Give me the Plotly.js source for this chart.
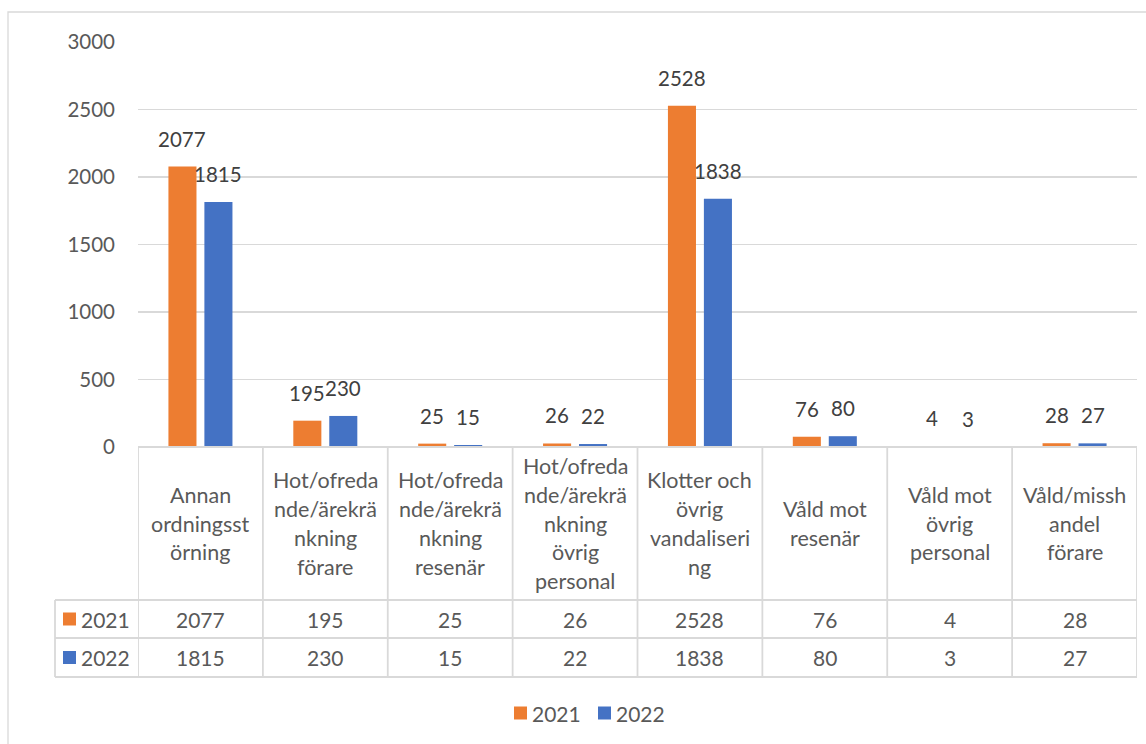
<!DOCTYPE html>
<html>
<head>
<meta charset="utf-8">
<script src="https://cdn.plot.ly/plotly-3.0.1.min.js"></script>
<style>html,body{margin:0;padding:0;background:#fff;}#chart{width:1146px;height:744px;}</style>
</head>
<body>
<div id="chart"></div>
<script>
// ---- data ----
var categories = [
  "Annan ordningsstörning",
  "Hot/ofredande/ärekränkning förare",
  "Hot/ofredande/ärekränkning resenär",
  "Hot/ofredande/ärekränkning övrig personal",
  "Klotter och övrig vandalisering",
  "Våld mot resenär",
  "Våld mot övrig personal",
  "Våld/misshandel förare"
];
// wrapped lines as shown in the data table
var categoryLines = [
  ["Annan", "ordningsst", "örning"],
  ["Hot/ofreda", "nde/ärekrä", "nkning", "förare"],
  ["Hot/ofreda", "nde/ärekrä", "nkning", "resenär"],
  ["Hot/ofreda", "nde/ärekrä", "nkning", "övrig", "personal"],
  ["Klotter och", "övrig", "vandaliseri", "ng"],
  ["Våld mot", "resenär"],
  ["Våld mot", "övrig", "personal"],
  ["Våld/missh", "andel", "förare"]
];
var seriesNames = ["2021", "2022"];
var values2021 = [2077, 195, 25, 26, 2528, 76, 4, 28];
var values2022 = [1815, 230, 15, 22, 1838, 80, 3, 27];
var yTicks = [0, 500, 1000, 1500, 2000, 2500, 3000];

// ---- styling / layout geometry ----
var W = 1146, H = 744;
var L = 138, R = 1137, T = 42, B = 447;
var colors = ["#ED7D31", "#4472C4"];
var FONT = "Lato, 'Open Sans', sans-serif";
var textGrey = "#595959", labelGrey = "#404040", lineGrey = "#D9D9D9";
function px(xp) { return (xp - L) / (R - L); }
function py(yp) { return (B - yp) / (B - T); }

var headerBottom = 600, row1Bottom = 638, row2Bottom = 677, tableLeft = 55;

var traces = [
  {type: "bar", name: seriesNames[0], x: categories, y: values2021,
   marker: {color: colors[0]}, hoverinfo: "y", showlegend: false},
  {type: "bar", name: seriesNames[1], x: categories, y: values2022,
   marker: {color: colors[1]}, hoverinfo: "y", showlegend: false}
];

var shapes = [];
var annotations = [];
var lineStyle = {color: lineGrey, width: 1.8};

// outer chart border
shapes.push({type: "rect", xref: "paper", yref: "paper",
  x0: px(8), x1: px(1170), y0: py(12), y1: py(770),
  line: {color: lineGrey, width: 1.3}, fillcolor: "rgba(0,0,0,0)", layer: "below"});

// table horizontal lines
shapes.push({type: "line", xref: "paper", yref: "paper", x0: 0, x1: 1, y0: 0, y1: 0, line: lineStyle});
[headerBottom, row1Bottom, row2Bottom].forEach(function (yy) {
  shapes.push({type: "line", xref: "paper", yref: "paper",
    x0: px(tableLeft), x1: 1, y0: py(yy), y1: py(yy), line: lineStyle});
});
// table left border (legend key column)
shapes.push({type: "line", xref: "paper", yref: "paper",
  x0: px(tableLeft), x1: px(tableLeft), y0: py(headerBottom), y1: py(row2Bottom), line: lineStyle});
// vertical category boundaries
for (var i = 0; i <= categories.length; i++) {
  shapes.push({type: "line", xref: "x", yref: "paper",
    x0: i - 0.5, x1: i - 0.5, y0: 0, y1: py(row2Bottom), line: lineStyle});
}

// data labels above bars
var series = [values2021, values2022];
var shifts = [-18, 18];
series.forEach(function (vals, s) {
  vals.forEach(function (v, k) {
    annotations.push({xref: "x", yref: "y", x: categories[k], y: v,
      xshift: shifts[s], yshift: 14, yanchor: "bottom", showarrow: false,
      text: String(v), font: {family: FONT, size: 20.5, color: labelGrey}});
  });
});

// table header: category names
var lineH = 28.8;
var headerMid = py((B + headerBottom) / 2);
categoryLines.forEach(function (lines, k) {
  var n = lines.length;
  lines.forEach(function (t, j) {
    annotations.push({xref: "x", yref: "paper", x: categories[k], y: headerMid,
      yshift: -((j - (n - 1) / 2) * lineH), yanchor: "middle", showarrow: false,
      text: t, font: {family: FONT, size: 21.5, color: textGrey}});
  });
});

// table rows
var rowMids = [(headerBottom + row1Bottom) / 2, (row1Bottom + row2Bottom) / 2];
series.forEach(function (vals, s) {
  var ym = py(rowMids[s]);
  vals.forEach(function (v, k) {
    annotations.push({xref: "x", yref: "paper", x: categories[k], y: ym,
      yanchor: "middle", showarrow: false, text: String(v),
      font: {family: FONT, size: 21, color: textGrey}});
  });
  // legend key square in table
  shapes.push({type: "rect", xref: "paper", yref: "paper",
    x0: px(63), x1: px(76), y0: py(rowMids[s] - 6.5), y1: py(rowMids[s] + 6.5),
    line: {width: 0}, fillcolor: colors[s]});
  annotations.push({xref: "paper", yref: "paper", x: px(79), y: ym, xanchor: "left",
    yanchor: "middle", showarrow: false, text: seriesNames[s],
    font: {family: FONT, size: 21, color: textGrey}});
});

// bottom legend
var legendY = 713;
var legendX = [514, 598];
seriesNames.forEach(function (nm, s) {
  shapes.push({type: "rect", xref: "paper", yref: "paper",
    x0: px(legendX[s]), x1: px(legendX[s] + 13), y0: py(legendY - 6.5), y1: py(legendY + 6.5),
    line: {width: 0}, fillcolor: colors[s]});
  annotations.push({xref: "paper", yref: "paper", x: px(legendX[s] + 16), y: py(legendY),
    xanchor: "left", yanchor: "middle", showarrow: false, text: nm,
    font: {family: FONT, size: 21, color: textGrey}});
});

var layout = {
  width: W, height: H,
  margin: {l: L, r: W - R, t: T, b: H - B, pad: 0},
  paper_bgcolor: "#fff", plot_bgcolor: "#fff",
  font: {family: FONT, size: 20, color: textGrey},
  barmode: "group", bargap: 0.424, bargroupgap: 0.22,
  showlegend: false,
  xaxis: {type: "category", range: [-0.5, categories.length - 0.5], showticklabels: false,
    showgrid: false, zeroline: false, showline: false, ticks: ""},
  yaxis: {range: [0, 3000], tickvals: yTicks, ticktext: yTicks.map(String),
    showgrid: true, gridcolor: lineGrey, gridwidth: 1.8, zeroline: false, showline: false,
    ticks: "", ticklabelstandoff: 22, tickfont: {family: FONT, size: 20.5, color: textGrey}},
  shapes: shapes,
  annotations: annotations
};

Plotly.newPlot("chart", traces, layout, {displayModeBar: false, staticPlot: true});
</script>
</body>
</html>
